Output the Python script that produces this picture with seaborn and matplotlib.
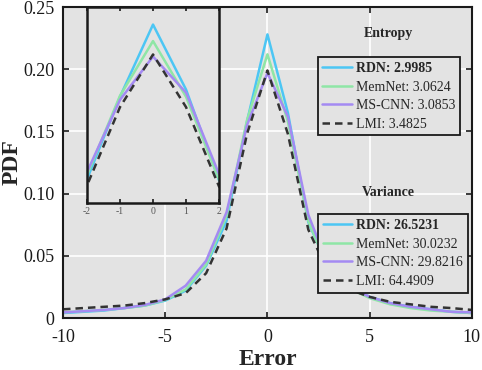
import numpy as np
import pandas as pd
import matplotlib
matplotlib.use('Agg')
import matplotlib.pyplot as plt
import seaborn as sns

# error values and PDF per method
errors = list(range(-10, 11))
rdn = [0.004, 0.005, 0.006, 0.008, 0.010, 0.014, 0.022, 0.042, 0.078, 0.158, 0.228,
       0.165, 0.077, 0.040, 0.025, 0.017, 0.012, 0.009, 0.007, 0.005, 0.004]
memnet = [0.0045, 0.0055, 0.0065, 0.008, 0.010, 0.0145, 0.023, 0.043, 0.082, 0.159, 0.212,
          0.158, 0.078, 0.039, 0.024, 0.016, 0.011, 0.008, 0.006, 0.005, 0.004]
mscnn = [0.0045, 0.0055, 0.0065, 0.008, 0.0105, 0.015, 0.026, 0.046, 0.085, 0.155, 0.197,
         0.162, 0.083, 0.041, 0.025, 0.017, 0.012, 0.009, 0.007, 0.005, 0.0045]
lmi = [0.007, 0.008, 0.009, 0.010, 0.012, 0.015, 0.020, 0.036, 0.072, 0.148, 0.199,
       0.148, 0.071, 0.036, 0.023, 0.017, 0.013, 0.011, 0.009, 0.008, 0.0065]

methods = ['RDN', 'MemNet', 'MS-CNN', 'LMI']
entropy_labels = ['RDN: 2.9985', 'MemNet: 3.0624', 'MS-CNN: 3.0853', 'LMI: 3.4825']
variance_labels = ['RDN: 26.5231', 'MemNet: 30.0232', 'MS-CNN: 29.8216', 'LMI: 64.4909']
colors = {'RDN': '#4cc6f4', 'MemNet': '#8fe6a6', 'MS-CNN': '#a48af2', 'LMI': '#333333'}
dashes = {'RDN': '', 'MemNet': '', 'MS-CNN': '', 'LMI': (3, 2)}

df = pd.DataFrame({
    'Error': errors * 4,
    'PDF': rdn + memnet + mscnn + lmi,
    'Method': sum([[m] * len(errors) for m in methods], []),
})

sns.set_theme(style='darkgrid', rc={
    'axes.facecolor': '#e3e3e3',
    'grid.color': 'white',
    'grid.linewidth': 1.2,
    'axes.edgecolor': '#1a1a1a',
    'axes.linewidth': 1.5,
})
plt.rcParams['font.family'] = ['Liberation Serif', 'DejaVu Serif']

fig = plt.figure(figsize=(4.82, 3.70), dpi=100)
ax = fig.add_axes([0.1307, 0.1405, 0.8483, 0.8405])

sns.lineplot(data=df, x='Error', y='PDF', hue='Method', style='Method',
             palette=colors, dashes=dashes, hue_order=methods, style_order=methods,
             linewidth=1.8, legend=False, ax=ax)

ax.set_xlim(-10, 10)
ax.set_ylim(0, 0.25)
ax.set_xticks([-10, -5, 0, 5, 10])
ax.set_xticklabels(['-10', '-5', '0', '5', '10'])
ax.set_yticks([0, 0.05, 0.10, 0.15, 0.20, 0.25])
ax.set_yticklabels(['0', '0.05', '0.10', '0.15', '0.20', '0.25'])
ax.tick_params(direction='in', length=4, width=1.2, color='#1a1a1a',
               labelsize=13, top=True, right=True, bottom=True, left=True,
               labeltop=False, labelright=False, labelcolor='#1a1a1a')
ax.tick_params(axis='x', pad=8)
ax.tick_params(axis='y', pad=6)
for s in ax.spines.values():
    s.set_visible(True)
    s.set_color('#1a1a1a')
    s.set_linewidth(1.5)
ax.set_xlabel('Error', fontsize=17, fontweight='bold', labelpad=2)
ax.set_ylabel('PDF', fontsize=17, fontweight='bold', va='center')
ax.yaxis.set_label_coords(-0.125, 0.5)

lines = ax.get_lines()[:4]
leg1 = ax.legend(lines, entropy_labels, loc='upper right', bbox_to_anchor=(0.971, 0.839),
                 fontsize=10, frameon=True, fancybox=False, framealpha=1,
                 edgecolor='#1a1a1a', handlelength=2.1, handletextpad=0.3,
                 labelspacing=0.4, borderpad=0.35, borderaxespad=0)
leg1.get_frame().set_linewidth(1.3)
leg1.get_texts()[0].set_fontweight('bold')
ax.add_artist(leg1)
leg2 = ax.legend(lines, variance_labels, loc='upper right', bbox_to_anchor=(0.990, 0.334),
                 fontsize=10, frameon=True, fancybox=False, framealpha=1,
                 edgecolor='#1a1a1a', handlelength=2.1, handletextpad=0.3,
                 labelspacing=0.4, borderpad=0.35, borderaxespad=0)
leg2.get_frame().set_linewidth(1.3)
leg2.get_texts()[0].set_fontweight('bold')

ax.text(0.795, 0.916, 'Entropy', transform=ax.transAxes, ha='center', va='center',
        fontsize=10, fontweight='bold')
ax.text(0.795, 0.405, 'Variance', transform=ax.transAxes, ha='center', va='center',
        fontsize=10, fontweight='bold')

# zoomed inset around the peak
ins = fig.add_axes([0.1805, 0.4514, 0.2739, 0.5296])
sns.lineplot(data=df, x='Error', y='PDF', hue='Method', style='Method',
             palette=colors, dashes=dashes, hue_order=methods, style_order=methods,
             linewidth=1.8, legend=False, ax=ins)
ins.set_xlim(-2, 2)
ins.set_ylim(0.055, 0.245)
ins.grid(False)
ins.set_facecolor('#e3e3e3')
ins.set_xticks([-2, -1, 0, 1, 2])
ins.set_xticklabels(['-2', '-1', '0', '1', '2'])
ins.set_yticks([])
ins.set_xlabel('')
ins.set_ylabel('')
ins.tick_params(axis='x', direction='in', length=3, width=1.2, color='#1a1a1a',
                labelsize=7, labelcolor='#555555', top=True, bottom=True, pad=3)
for s in ins.spines.values():
    s.set_visible(True)
    s.set_color('#1a1a1a')
    s.set_linewidth(1.8)

fig.savefig('out.png', dpi=100)
